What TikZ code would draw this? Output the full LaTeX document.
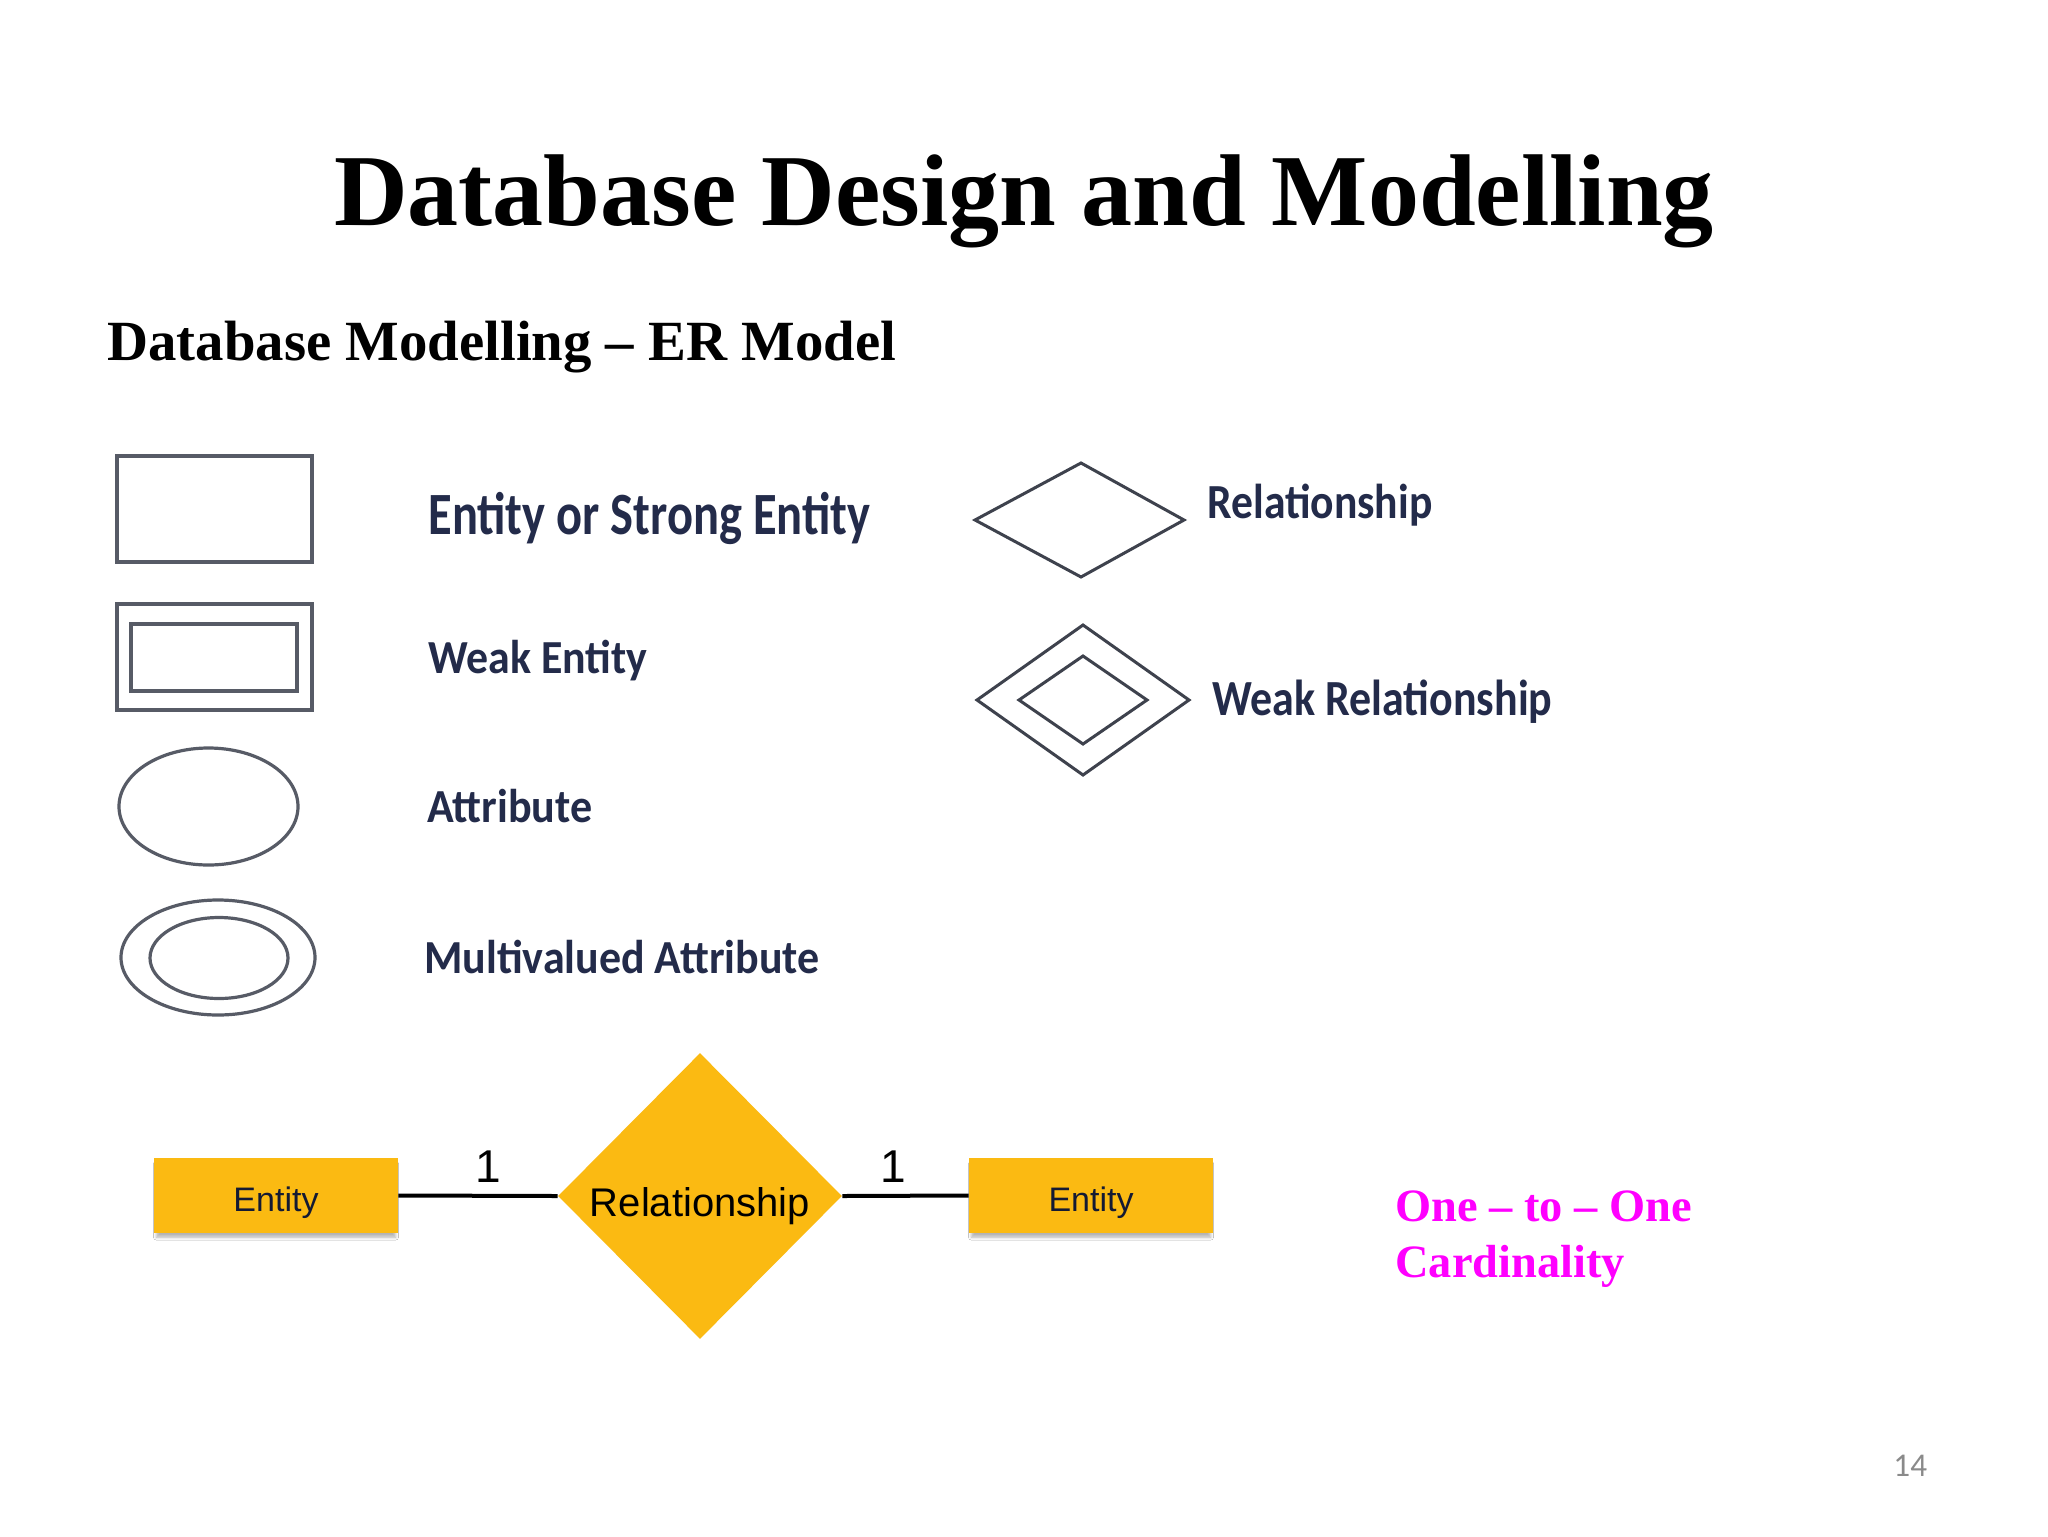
\documentclass[tikz,border=0pt]{standalone}
\usepackage{fontspec}
\setmainfont{Liberation Serif}
\newfontfamily\calfont{Carlito}
\newfontfamily\arialfont{Liberation Sans}
\usetikzlibrary{shapes.geometric,shadows.blur}
\definecolor{orng}{HTML}{FBBA12}
\definecolor{lgline}{HTML}{575B66}
\definecolor{lgdline}{HTML}{3E424D}
\definecolor{lgtext}{HTML}{232B4A}
\definecolor{magen}{HTML}{FF00FF}
\definecolor{pgnum}{HTML}{8A8A8A}
\definecolor{navy}{HTML}{141A33}
\newcommand{\fitw}[3]{\resizebox{#1}{\height}{\fontsize{#2}{#2}\selectfont #3}}
\begin{document}
\begin{tikzpicture}[x=0.5pt,y=-0.5pt,
  lgshape/.style={draw=lgline, line width=2pt},
  lgell/.style={draw=lgline, line width=1.6pt},
  lgdiam/.style={draw=lgdline, line width=1.5pt, line join=miter},
  lgtxt/.style={anchor=base west, inner sep=0pt, text=lgtext, font=\calfont\bfseries},
  entbox/.style={rectangle, fill=orng, minimum width=122pt, minimum height=37.5pt, inner sep=0pt,
    font={\arialfont\fontsize{17pt}{20pt}\selectfont}, text=navy, text height=15.5pt, text depth=0pt,
    blur shadow={shadow xshift=0pt, shadow yshift=-2.5pt, shadow blur radius=1.5pt, shadow scale=0.98, shadow opacity=30}},
  relshape/.style={diamond, fill=orng, minimum width=142pt, minimum height=143pt, inner sep=0pt,
    font={\arialfont\fontsize{20pt}{24pt}\selectfont}, text=black, text height=20pt, text depth=0pt},
  conn/.style={draw=black, line width=2pt},
  cardlbl/.style={anchor=base, inner sep=0pt, font={\arialfont\fontsize{23pt}{27pt}\selectfont}},
  magtxt/.style={anchor=base west, inner sep=0pt, text=magen, font={\bfseries\fontsize{23.2pt}{28pt}\selectfont}}
]
\useasboundingbox (0,0) rectangle (2048,1536);
\fill[white] (0,0) rectangle (2048,1536);

% titles
\node (title) [anchor=base, inner sep=0pt, font={\bfseries\fontsize{51pt}{60pt}\selectfont}] at (1024,225) {Database Design and Modelling};
\node (sub) [anchor=base west, inner sep=0pt, font={\bfseries\fontsize{28.4pt}{34pt}\selectfont}] at (107,360) {Database Modelling – ER Model};

% legend shapes
\draw[lgshape] (117,456) rectangle (312,562);
\draw[lgshape] (117,604) rectangle (312,710);
\draw[lgshape] (131,624) rectangle (297,691);
\draw[lgell] (208.5,806.5) ellipse [x radius=44.75pt, y radius=29.25pt];
\draw[lgell] (218,957.5) ellipse [x radius=48.5pt, y radius=28.75pt];
\draw[lgell] (219,958) ellipse [x radius=34.5pt, y radius=20.25pt];
\draw[lgdiam] (975,520) -- (1081,463) -- (1184,520) -- (1081,577) -- cycle;
\draw[lgdiam] (977,700) -- (1083,625) -- (1189,700) -- (1083,775) -- cycle;
\draw[lgdiam] (1019,700) -- (1083,656) -- (1147,700) -- (1083,744) -- cycle;

% legend texts
\node (t1) [lgtxt] at (428,534) {\fitw{221pt}{30pt}{Entity or Strong Entity}};
\node (t2) [lgtxt] at (428,673) {\fitw{109.5pt}{23.7pt}{Weak Entity}};
\node (t3) [lgtxt] at (427,822) {\fitw{82.5pt}{23.7pt}{Attribute}};
\node (t4) [lgtxt] at (424,973) {\fitw{197.5pt}{23.7pt}{Multivalued Attribute}};
\node (t5) [lgtxt] at (1207,518) {\fitw{112.5pt}{24.5pt}{Relationship}};
\node (t6) [lgtxt] at (1212,715) {\fitw{170pt}{25.3pt}{Weak Relationship}};

% one-to-one diagram
\node (e1) [entbox] at (276,1195.5) {Entity};
\node (rel) [relshape] at (700,1196) {Relationship};
\node (e2) [entbox] at (1091,1195.5) {Entity};
\draw[conn] (e1.east) -- (rel.west);
\draw[conn] (rel.east) -- (e2.west);
\node (c1) [cardlbl] at (488,1182) {1};
\node (c2) [cardlbl] at (893,1182) {1};

% cardinality caption
\node (card1) [magtxt] at (1395,1221) {One – to – One};
\node (card2) [magtxt] at (1395,1277) {Cardinality};

% page number
\node (pg) [anchor=base west, inner sep=0pt, text=pgnum, font={\calfont\fontsize{16.6pt}{20pt}\selectfont}] at (1893,1476) {14};
\end{tikzpicture}
\end{document}
